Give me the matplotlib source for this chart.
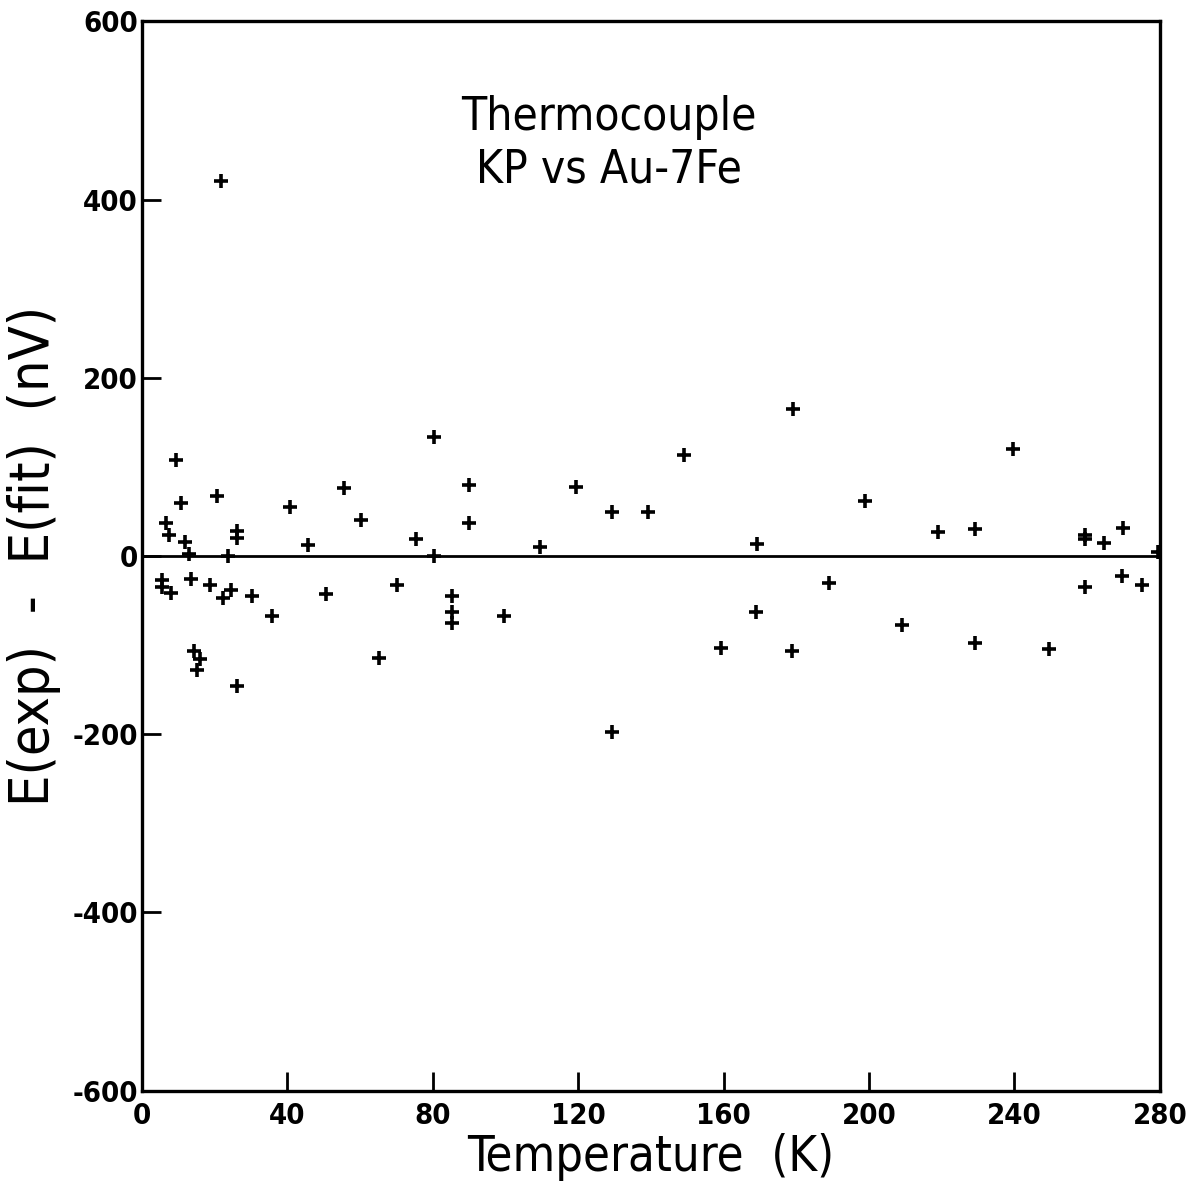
import matplotlib
matplotlib.use("Agg")
import matplotlib.pyplot as plt

# residuals: temperature (K) and E(exp) - E(fit) (nV)
temp_k = [
    21.7, 9.4, 10.7, 6.6, 7.4, 11.8, 13.1, 20.6, 26.1, 26.1, 23.8,
    5.5, 5.5, 8.1, 13.4, 18.7, 22.3, 24.6, 30.4, 35.7, 14.3, 16.1, 15.3, 26.1,
    40.7, 45.6, 50.6,
    80.3, 55.6, 89.9, 119.4, 129.4, 60.4, 89.9, 75.4, 109.5, 80.3, 70.3,
    85.2, 85.2, 85.2, 99.6, 65.2, 129.2,
    179.1, 149.1, 198.8, 139.2, 169.2, 189.0, 168.8, 159.2, 178.9,
    239.5, 219.0, 229.1, 259.4, 259.4, 264.6, 269.9, 279.5, 269.5, 275.0,
    259.5, 209.2, 229.3, 249.5,
]
resid_nv = [
    421, 108, 60, 37, 24, 16, 2, 67, 28, 20, 0,
    -27, -35, -42, -26, -33, -47, -38, -45, -67, -106, -116, -128, -146,
    55, 12, -43,
    134, 76, 80, 77, 49, 41, 37, 19, 10, 0, -32,
    -45, -63, -75, -67, -114, -198,
    165, 113, 62, 49, 13, -30, -63, -103, -106,
    120, 27, 30, 24, 19, 15, 32, 5, -22, -33,
    -35, -77, -98, -104,
]

x_ticks = [0, 40, 80, 120, 160, 200, 240, 280]
y_ticks = [-600, -400, -200, 0, 200, 400, 600]
title_lines = ["Thermocouple", "KP vs Au-7Fe"]

plt.rcParams["font.family"] = ["DejaVu Sans"]
plt.rcParams["font.stretch"] = "condensed"
plt.rcParams["axes.unicode_minus"] = False

fig = plt.figure(figsize=(11.92, 11.92), dpi=100)
ax = fig.add_axes([0.119, 0.085, 0.854, 0.897])

ax.axhline(0, color="black", lw=2.0, zorder=1)
ax.plot(temp_k, resid_nv, ls="none", marker="+", ms=10, mew=2.6,
        color="black", zorder=2)

ax.set_xlim(0, 280)
ax.set_ylim(-600, 600)
ax.set_xticks(x_ticks)
ax.set_yticks(y_ticks)
ax.tick_params(direction="in", length=14, width=2, labelsize=21)
ax.tick_params(axis="x", pad=8)
ax.tick_params(axis="y", pad=3)
for lab in ax.get_xticklabels() + ax.get_yticklabels():
    lab.set_fontweight("bold")
for s in ax.spines.values():
    s.set_linewidth(2.4)

ax.text(128.5, 463, "\n".join(title_lines), ha="center", va="center",
        fontsize=33, linespacing=1.2)

ax.set_xlabel("Temperature  (K)", fontsize=35, labelpad=2)
ax.set_ylabel("E(exp)  -  E(fit)  (nV)", fontsize=40, labelpad=8)

fig.savefig("out.png", dpi=100)
